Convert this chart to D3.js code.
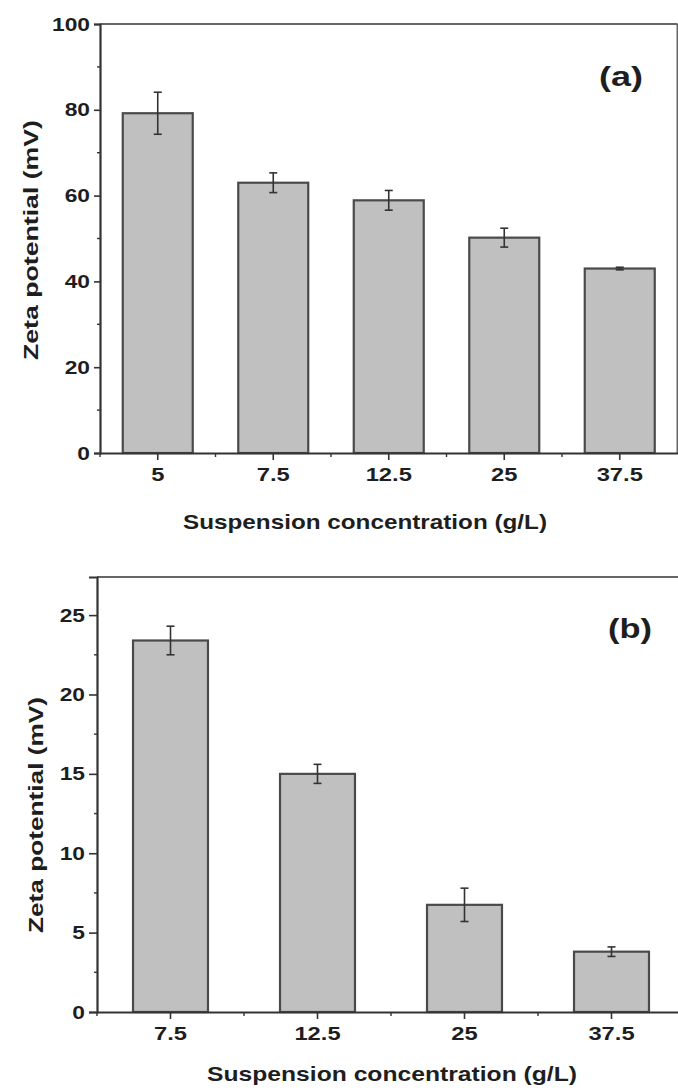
<!DOCTYPE html>
<html>
<head>
<meta charset="utf-8">
<script src="https://cdn.jsdelivr.net/npm/d3@7/dist/d3.min.js"></script>
<style>
  html, body { margin: 0; padding: 0; background: #fff; }
  svg { display: block; }
  text { font-family: Arial, "Liberation Sans", sans-serif; font-weight: bold; fill: #1e1e1e; }
</style>
</head>
<body>
<svg id="chart" width="678" height="1091"></svg>
<script>
// Panel (a): zeta potential vs suspension concentration
const catsA = ["5", "7.5", "12.5", "25", "37.5"];
const zetaA = [79.2, 63.0, 58.9, 50.2, 43.0];
const errA  = [4.9, 2.3, 2.3, 2.2, 0.3];
const yTicksA = [0, 20, 40, 60, 80, 100];

// Panel (b)
const catsB = ["7.5", "12.5", "25", "37.5"];
const zetaB = [23.4, 15.0, 6.75, 3.8];
const errB  = [0.9, 0.6, 1.05, 0.3];
const yTicksB = [0, 5, 10, 15, 20, 25];

const xTitle = "Suspension concentration (g/L)";
const yTitle = "Zeta potential (mV)";

const svg = d3.select("#chart");

// widen bold text along its reading direction
function widen(sel, factor) {
  sel.each(function () {
    const w = this.getComputedTextLength();
    d3.select(this).attr("textLength", w * factor).attr("lengthAdjust", "spacingAndGlyphs");
  });
}

function panel(opt) {
  const g = svg.append("g");
  const x = d3.scaleBand().domain(opt.cats).range(opt.xr)
    .paddingInner(opt.pad).paddingOuter(opt.pad / 2);
  const y = d3.scaleLinear().domain(opt.yd).range(opt.yr);
  const step = x.step();

  // frame (top and right)
  g.append("line").attr("x1", opt.xr[0]).attr("x2", opt.xr[1])
    .attr("y1", opt.yr[1]).attr("y2", opt.yr[1])
    .attr("stroke", "#666").attr("stroke-width", 2);
  g.append("line").attr("x1", opt.xr[1]).attr("x2", opt.xr[1])
    .attr("y1", opt.yr[1]).attr("y2", opt.yr[0])
    .attr("stroke", "#666").attr("stroke-width", 2);

  // bars
  g.selectAll("rect.bar").data(opt.vals).join("rect")
    .attr("class", "bar")
    .attr("x", (d, i) => x(opt.cats[i]))
    .attr("width", x.bandwidth())
    .attr("y", d => y(d))
    .attr("height", d => y(0) - y(d))
    .attr("fill", "#c0c0c0")
    .attr("stroke", "#4a4a4a")
    .attr("stroke-width", 2.2);

  // error bars
  const eg = g.selectAll("g.err").data(opt.vals).join("g").attr("class", "err")
    .attr("stroke", "#333").attr("stroke-width", 1.6);
  eg.each(function (d, i) {
    const cx = x(opt.cats[i]) + x.bandwidth() / 2;
    const e = opt.errs[i];
    const s = d3.select(this);
    s.append("line").attr("x1", cx).attr("x2", cx).attr("y1", y(d + e)).attr("y2", y(d - e));
    s.append("line").attr("x1", cx - 4).attr("x2", cx + 4).attr("y1", y(d + e)).attr("y2", y(d + e));
    s.append("line").attr("x1", cx - 4).attr("x2", cx + 4).attr("y1", y(d - e)).attr("y2", y(d - e));
  });

  // y axis
  const ya = g.append("g").attr("transform", `translate(${opt.xr[0]},0)`)
    .call(d3.axisLeft(y).tickValues(opt.yticks).tickSize(opt.ytick).tickPadding(opt.ypad));
  ya.select(".domain").attr("stroke", "#333").attr("stroke-width", 2.2);
  ya.selectAll(".tick line").attr("stroke", "#333").attr("stroke-width", 1.6);
  ya.selectAll(".tick text").style("font-size", "19px").style("font-family", null).attr("fill", "#1e1e1e");
  widen(ya.selectAll(".tick text"), 1.2);
  // minor y ticks
  const minorY = d3.pairs(opt.yticks).map(p => (p[0] + p[1]) / 2);
  g.selectAll("line.my").data(minorY).join("line").attr("class", "my")
    .attr("x1", opt.xr[0] - 3).attr("x2", opt.xr[0])
    .attr("y1", d => y(d)).attr("y2", d => y(d))
    .attr("stroke", "#333").attr("stroke-width", 1.4);

  // x axis
  const xa = g.append("g").attr("transform", `translate(0,${opt.yr[0]})`)
    .call(d3.axisBottom(x).tickSize(opt.xtick).tickPadding(opt.xpad).tickSizeOuter(0));
  xa.select(".domain").attr("stroke", "#333").attr("stroke-width", 2.2);
  xa.selectAll(".tick line").attr("stroke", "#333").attr("stroke-width", 1.6);
  xa.selectAll(".tick text").style("font-size", "19px").style("font-family", null).attr("fill", "#1e1e1e");
  widen(xa.selectAll(".tick text"), 1.25);
  // minor x ticks between categories and at the axis origin
  const minorX = d3.range(opt.cats.length).map(i => opt.xr[0] + i * step);
  g.selectAll("line.mx").data(minorX).join("line").attr("class", "mx")
    .attr("x1", d => d).attr("x2", d => d)
    .attr("y1", opt.yr[0]).attr("y2", opt.yr[0] + 4)
    .attr("stroke", "#333").attr("stroke-width", 1.4);

  // axis titles
  const xt = g.append("text").attr("x", opt.xtx).attr("y", opt.xty)
    .attr("text-anchor", "middle").style("font-size", "21px").text(xTitle);
  xt.attr("textLength", opt.xtw).attr("lengthAdjust", "spacingAndGlyphs");
  const ytl = g.append("text")
    .attr("transform", `translate(${opt.ytx},${opt.yty}) rotate(-90)`)
    .attr("text-anchor", "middle").style("font-size", "20px").text(yTitle);
  ytl.attr("textLength", opt.ytw).attr("lengthAdjust", "spacingAndGlyphs");

  // panel label
  g.append("text").attr("x", opt.lx).attr("y", opt.ly)
    .attr("text-anchor", "middle").style("font-size", "27px")
    .attr("textLength", 44).attr("lengthAdjust", "spacingAndGlyphs")
    .text(opt.label);
}

panel({
  cats: catsA, vals: zetaA, errs: errA, yticks: yTicksA,
  xr: [100, 677.5], yr: [453, 24], yd: [0, 100], pad: 0.394,
  ytick: 6, ypad: 4, xtick: 7, xpad: 8,
  xtx: 365, xty: 529, xtw: 364,
  ytx: 38, yty: 240, ytw: 240,
  lx: 621, ly: 86, label: "(a)"
});

panel({
  cats: catsB, vals: zetaB, errs: errB, yticks: yTicksB,
  xr: [97, 685], yr: [1012, 577], yd: [0, 27.4], pad: 0.49,
  ytick: 8, ypad: 4, xtick: 7, xpad: 8,
  xtx: 392, xty: 1081, xtw: 370,
  ytx: 43, yty: 815, ytw: 236,
  lx: 630, ly: 638, label: "(b)"
});
</script>
</body>
</html>
